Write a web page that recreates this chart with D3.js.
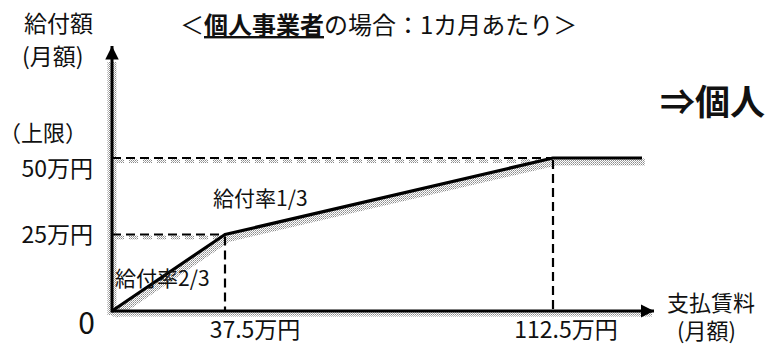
<!DOCTYPE html>
<html>
<head>
<meta charset="utf-8">
<script src="https://cdn.jsdelivr.net/npm/d3@7"></script>
<style>
  body { margin: 0; background: #fff; }
  svg text { font-family: "Noto Sans CJK JP", sans-serif; fill: #111; }
</style>
</head>
<body>
<div id="chart"></div>
<script>
// benefit curve (万円): rent paid -> monthly benefit
const rentValues = [0, 37.5, 112.5, 140];
const benefitValues = [0, 25, 50, 50];
const xTickValues = [37.5, 112.5];
const xTickLabels = ["37.5万円", "112.5万円"];
const yTickValues = [25, 50];
const yTickLabels = ["25万円", "50万円"];
const rateLabels = ["給付率2/3", "給付率1/3"];

const width = 771, height = 344;

const svg = d3.select("#chart").append("svg")
    .attr("width", width)
    .attr("height", height);

// dither pattern for the shadow look
const defs = svg.append("defs");
const pat = defs.append("pattern")
    .attr("id", "dither")
    .attr("width", 2).attr("height", 2)
    .attr("patternUnits", "userSpaceOnUse");
pat.append("rect").attr("width", 2).attr("height", 2).attr("fill", "#fff");
pat.append("rect").attr("width", 1).attr("height", 1).attr("fill", "#8a8a8a");
pat.append("rect").attr("x", 1).attr("y", 1).attr("width", 1).attr("height", 1).attr("fill", "#b0b0b0");

defs.append("marker")
    .attr("id", "arrow")
    .attr("viewBox", "0 0 10 10")
    .attr("refX", 10).attr("refY", 5)
    .attr("markerWidth", 4.5).attr("markerHeight", 4.5)
    .attr("markerUnits", "strokeWidth")
    .attr("orient", "auto")
    .append("path")
    .attr("d", "M0,0L10,5L0,10Z")
    .attr("fill", "#000");

// piecewise scale: the drawing is schematic, not proportional
const x = d3.scaleLinear()
    .domain([0, 37.5, 112.5, 140])
    .range([112, 225, 553, 642]);
const y = d3.scaleLinear()
    .domain([0, 50])
    .range([311, 158]);

const x0 = x(0), y0 = y(0);
const line = d3.line().x((d, i) => x(rentValues[i])).y(d => y(d));

// ---- shadows ----
const shadow = svg.append("g").attr("transform", "translate(3,4)");
shadow.append("path")
    .attr("d", line(benefitValues))
    .attr("fill", "none")
    .attr("stroke", "url(#dither)")
    .attr("stroke-width", 7);
shadow.append("line")
    .attr("x1", x0 - 3).attr("x2", 649).attr("y1", y0 - 1).attr("y2", y0 - 1)
    .attr("stroke", "url(#dither)").attr("stroke-width", 5);
shadow.append("line")
    .attr("x1", x0 - 3).attr("x2", x0 - 3).attr("y1", 58).attr("y2", y0)
    .attr("stroke", "url(#dither)").attr("stroke-width", 9);
yTickValues.forEach(v => {
    shadow.append("line")
        .attr("x1", x0).attr("x2", x(v === 50 ? 112.5 : 37.5))
        .attr("y1", y(v) - 1).attr("y2", y(v) - 1)
        .attr("stroke", "url(#dither)").attr("stroke-width", 4)
        .attr("stroke-dasharray", "9,5");
});

// ---- guide dashes ----
const guides = svg.append("g")
    .attr("stroke", "#000")
    .attr("stroke-width", 2.2)
    .attr("stroke-dasharray", "9,5");
xTickValues.forEach((v, i) => {
    guides.append("line")
        .attr("x1", x0).attr("x2", x(v))
        .attr("y1", y(yTickValues[i])).attr("y2", y(yTickValues[i]));
    guides.append("line")
        .attr("x1", x(v)).attr("x2", x(v))
        .attr("y1", y(yTickValues[i]) + 2).attr("y2", y0);
});

// ---- axes ----
svg.append("line")
    .attr("x1", x0).attr("x2", 654)
    .attr("y1", y0).attr("y2", y0)
    .attr("stroke", "#000").attr("stroke-width", 3)
    .attr("marker-end", "url(#arrow)");
svg.append("line")
    .attr("x1", x0).attr("x2", x0)
    .attr("y1", y0 + 1.5).attr("y2", 46)
    .attr("stroke", "#000").attr("stroke-width", 3)
    .attr("marker-end", "url(#arrow)");

// ---- benefit line ----
svg.append("path")
    .attr("d", line(benefitValues))
    .attr("fill", "none")
    .attr("stroke", "#000")
    .attr("stroke-width", 3.2)
    .attr("stroke-linejoin", "round");

// ---- tick labels ----
const xLabelShift = [30, 13];
svg.selectAll(".xlab")
    .data(xTickValues)
    .join("text")
    .attr("class", "xlab")
    .attr("x", (d, i) => x(d) + xLabelShift[i])
    .attr("y", 338)
    .attr("text-anchor", "middle")
    .attr("font-size", 23)
    .text((d, i) => xTickLabels[i]);

svg.selectAll(".ylab")
    .data(yTickValues)
    .join("text")
    .attr("class", "ylab")
    .attr("x", 93)
    .attr("y", d => y(d) + (d === 50 ? 19 : 8))
    .attr("text-anchor", "end")
    .attr("font-size", 23)
    .text((d, i) => yTickLabels[i]);

svg.append("text")
    .attr("x", 87).attr("y", 141)
    .attr("text-anchor", "end")
    .attr("font-size", 22)
    .text("（上限）");

svg.append("text")
    .attr("x", 95).attr("y", 334)
    .attr("text-anchor", "end")
    .attr("font-size", 30)
    .text("0");

// axis titles
svg.append("text")
    .attr("x", 24).attr("y", 32)
    .attr("font-size", 23)
    .text("給付額");
svg.append("text")
    .attr("x", 22).attr("y", 65)
    .attr("font-size", 23)
    .text("(月額)");
svg.append("text")
    .attr("x", 667).attr("y", 311)
    .attr("font-size", 22)
    .text("支払賃料");
svg.append("text")
    .attr("x", 677).attr("y", 339)
    .attr("font-size", 22)
    .text("(月額)");

// rate labels near their segments
svg.append("text")
    .attr("x", x(0) + 3).attr("y", 286)
    .attr("font-size", 21)
    .text(rateLabels[0]);
svg.append("text")
    .attr("x", 213).attr("y", 206)
    .attr("font-size", 21)
    .text(rateLabels[1]);

// title
const title = svg.append("text")
    .attr("x", 180).attr("y", 34)
    .attr("font-size", 24);
title.append("tspan").text("＜");
title.append("tspan").attr("font-weight", "bold").attr("text-decoration", "underline").text("個人事業者");
title.append("tspan").text("の場合：1カ月あたり＞");

svg.append("text")
    .attr("x", 660).attr("y", 115)
    .attr("font-size", 35)
    .attr("font-weight", "bold")
    .text("⇒個人");
</script>
</body>
</html>
